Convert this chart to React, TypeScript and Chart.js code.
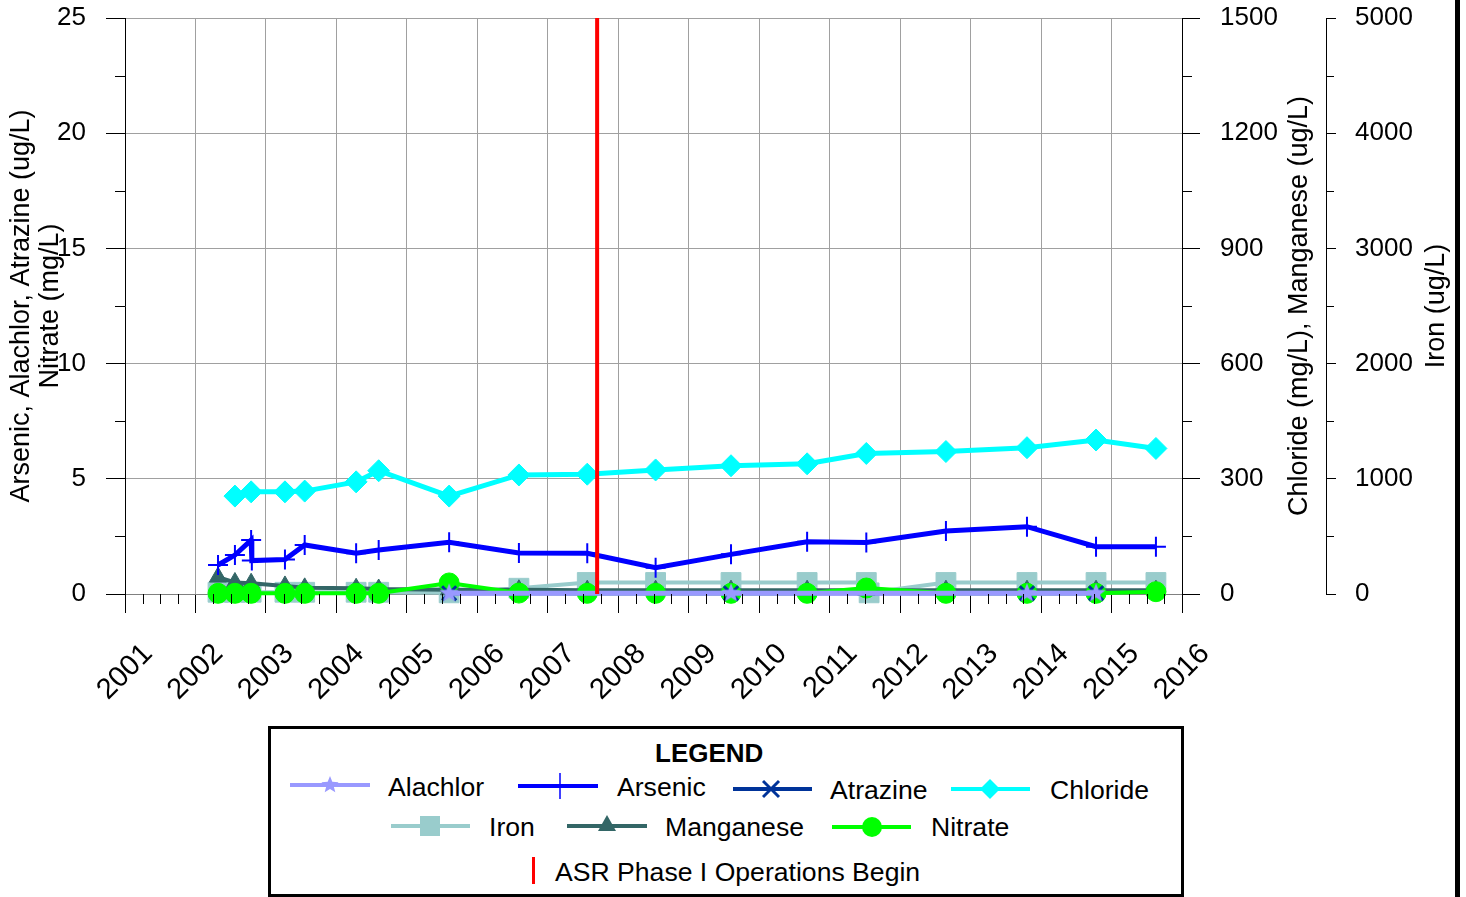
import React, { useEffect, useRef } from 'react';
import { Chart, registerables } from 'chart.js';

Chart.register(...registerables);

const FONT = "'Liberation Sans', Arial, Helvetica, sans-serif";

// ---------------- data ----------------
const sampleDates = [
  2002.32, 2002.56, 2002.79, 2003.27, 2003.55, 2004.28, 2004.6, 2005.6, 2006.59,
  2007.56, 2008.53, 2009.6, 2010.68, 2011.52, 2012.65, 2013.8, 2014.78, 2015.63,
];

const arsenicDates = [
  2002.32, 2002.56, 2002.79, 2002.8, 2003.27, 2003.55, 2004.28, 2004.6, 2005.6, 2006.59,
  2007.56, 2008.53, 2009.6, 2010.68, 2011.52, 2012.65, 2013.8, 2014.78, 2015.63,
];
const arsenic = [1.26, 1.69, 2.34, 1.45, 1.5, 2.13, 1.77, 1.91, 2.25, 1.78, 1.77, 1.14, 1.72, 2.27, 2.24, 2.73, 2.92, 2.05, 2.05];

const chloride = [null, 255, 266, 266, 268, 292, 321, 255, 310, 312, 323, 334, 339, 366, 371, 381, 401, 379];
const manganese = [44, 30, 28, 21, 16, 15, 13, 11, 11, 10, 10, 10, 10, 10, 10, 10, 10, 10];
const nitrate = [0.03, 0.03, 0.03, 0.03, 0.03, 0.03, 0.03, 0.48, 0.04, 0.03, 0.03, 0.03, 0.03, 0.26, 0.03, 0.03, 0.03, 0.1];

const ironDates = [
  2002.32, 2002.56, 2002.79, 2003.27, 2003.55, 2004.28, 2004.6, 2005.6, 2006.59,
  2007.56, 2008.53, 2009.6, 2010.68, 2011.52, 2011.56, 2012.65, 2013.8, 2014.78, 2015.63,
];
const iron = [15, 15, 15, 15, 15, 15, 15, 10, 50, 100, 100, 100, 100, 100, 10, 100, 100, 100, 100];

const organicsDates = [2005.6, 2009.6, 2013.8, 2014.78];
const alachlor = [0.03, 0.03, 0.03, 0.03];
const atrazine = [0.03, 0.03, 0.03, 0.03];

const asrStartDate = 2007.7;

const yearTicks = { min: 2001, max: 2016 };
const leftAxis = { min: 0, max: 25, step: 5 };
const chlorideAxis = { min: 0, max: 1500, step: 300 };
const ironAxis = { min: 0, max: 5000, step: 1000 };

const COLORS = {
  alachlor: '#9999FF',
  arsenic: '#0000FF',
  atrazine: '#003399',
  chloride: '#00FFFF',
  iron: '#99CCCC',
  manganese: '#336666',
  nitrate: '#00FF00',
  asr: '#FF0000',
};

const pts = (xs: number[], ys: (number | null)[]) =>
  xs.map((x, i) => ({ x, y: ys[i] })).filter((p) => p.y !== null && p.y !== undefined);

function makeStar(color: string, outer: number, inner: number) {
  const c = document.createElement('canvas');
  const s = Math.ceil(outer * 2 + 2);
  c.width = s;
  c.height = s;
  const ctx = c.getContext('2d')!;
  ctx.fillStyle = color;
  ctx.beginPath();
  for (let k = 0; k < 10; k++) {
    const r = k % 2 === 0 ? outer : inner;
    const a = -Math.PI / 2 + (k * Math.PI) / 5;
    const px = s / 2 + r * Math.cos(a);
    const py = s / 2 + r * Math.sin(a);
    if (k === 0) ctx.moveTo(px, py);
    else ctx.lineTo(px, py);
  }
  ctx.closePath();
  ctx.fill();
  return c;
}

const extrasPlugin = {
  id: 'extras',
  afterDraw(chart: any) {
    const ctx = chart.ctx as CanvasRenderingContext2D;
    const { x, y, y1, y2 } = chart.scales;
    const area = chart.chartArea;
    ctx.save();
    ctx.strokeStyle = '#000';
    ctx.lineWidth = 1;
    ctx.beginPath();
    for (let yr = yearTicks.min; yr < yearTicks.max; yr++) {
      for (let q = 1; q < 4; q++) {
        const px = Math.round(x.getPixelForValue(yr + q / 4)) + 0.5;
        ctx.moveTo(px, area.bottom);
        ctx.lineTo(px, area.bottom + 10);
      }
    }
    for (let v = leftAxis.min + leftAxis.step / 2; v < leftAxis.max; v += leftAxis.step) {
      const py = Math.round(y.getPixelForValue(v)) + 0.5;
      ctx.moveTo(area.left - 10, py);
      ctx.lineTo(area.left, py);
    }
    for (let v = chlorideAxis.min + chlorideAxis.step / 2; v < chlorideAxis.max; v += chlorideAxis.step) {
      const py = Math.round(y1.getPixelForValue(v)) + 0.5;
      ctx.moveTo(y1.left, py);
      ctx.lineTo(y1.left + 10, py);
    }
    for (let v = ironAxis.min + ironAxis.step / 2; v < ironAxis.max; v += ironAxis.step) {
      const py = Math.round(y2.getPixelForValue(v)) + 0.5;
      ctx.moveTo(y2.left, py);
      ctx.lineTo(y2.left + 8, py);
    }
    ctx.stroke();

    ctx.fillStyle = '#000';
    ctx.font = `27px ${FONT}`;
    ctx.textAlign = 'center';
    ctx.textBaseline = 'middle';
    const cy = (area.top + area.bottom) / 2;
    const rot = (text: string, cx: number, yy: number) => {
      ctx.save();
      ctx.translate(cx, yy);
      ctx.rotate(-Math.PI / 2);
      ctx.fillText(text, 0, 0);
      ctx.restore();
    };
    rot('Arsenic, Alachlor, Atrazine (ug/L)', 22, cy);
    rot('Nitrate (mg/L)', 51, cy);
    rot('Chloride (mg/L), Manganese (ug/L)', 1300, cy);
    rot('Iron (ug/L)', 1437, cy);
    ctx.restore();
  },
};

function LegendSample({ x1, x2, y, color, children }: any) {
  return (
    <g>
      <line x1={x1} x2={x2} y1={y} y2={y} stroke={color} strokeWidth={4} />
      {children}
    </g>
  );
}

function starPoints(cx: number, cy: number, outer: number, inner: number) {
  const p: string[] = [];
  for (let k = 0; k < 10; k++) {
    const r = k % 2 === 0 ? outer : inner;
    const a = -Math.PI / 2 + (k * Math.PI) / 5;
    p.push(`${(cx + r * Math.cos(a)).toFixed(1)},${(cy + r * Math.sin(a)).toFixed(1)}`);
  }
  return p.join(' ');
}

const legendText = (text: string, left: number, cy: number, bold = false) => (
  <span
    style={{
      position: 'absolute',
      left,
      top: cy - 15,
      font: `${bold ? 'bold ' : ''}${bold ? 26 : 26.6}px ${FONT}`,
      lineHeight: '30px',
      whiteSpace: 'nowrap',
      color: '#000',
    }}
  >
    {text}
  </span>
);

const fitY = (w: number) => (s: any) => {
  s.width = w;
  s.paddingTop = 0;
  s.paddingBottom = 0;
};

export default function App() {
  const ref = useRef<HTMLCanvasElement>(null);

  useEffect(() => {
    const star = makeStar(COLORS.alachlor, 10, 4.3);
    const font = { family: FONT, size: 26 };
    const common = { tension: 0, clip: false as any, pointBorderWidth: 1 };
    const plain = (v: any) => String(v);
    const chart = new Chart(ref.current!, {
      type: 'line',
      data: {
        datasets: [
          {
            label: 'ASR Phase I Operations Begin',
            data: [
              { x: asrStartDate, y: leftAxis.min },
              { x: asrStartDate, y: leftAxis.max },
            ],
            borderColor: COLORS.asr,
            borderWidth: 4,
            pointRadius: 0,
            yAxisID: 'y',
            order: 0,
            ...common,
          },
          {
            label: 'Alachlor',
            data: pts(organicsDates, alachlor),
            borderColor: COLORS.alachlor,
            backgroundColor: COLORS.alachlor,
            borderWidth: 5,
            pointStyle: star as any,
            pointRadius: 10,
            yAxisID: 'y',
            order: 1,
            ...common,
          },
          {
            label: 'Arsenic',
            data: pts(arsenicDates, arsenic),
            borderColor: COLORS.arsenic,
            backgroundColor: COLORS.arsenic,
            borderWidth: 5,
            pointStyle: 'cross',
            pointRadius: 10,
            yAxisID: 'y',
            order: 3,
            ...common,
            pointBorderWidth: 2,
          },
          {
            label: 'Atrazine',
            data: pts(organicsDates, atrazine),
            borderColor: COLORS.atrazine,
            backgroundColor: COLORS.atrazine,
            borderWidth: 4,
            pointStyle: 'crossRot',
            pointRadius: 10,
            yAxisID: 'y',
            order: 2,
            ...common,
            pointBorderWidth: 3,
          },
          {
            label: 'Chloride',
            data: pts(sampleDates, chloride),
            borderColor: COLORS.chloride,
            backgroundColor: COLORS.chloride,
            borderWidth: 5,
            pointStyle: 'rectRot',
            pointRadius: 11,
            yAxisID: 'y1',
            order: 4,
            ...common,
          },
          {
            label: 'Iron',
            data: pts(ironDates, iron),
            borderColor: COLORS.iron,
            backgroundColor: COLORS.iron,
            borderWidth: 4,
            pointStyle: 'rect',
            pointRadius: 14,
            yAxisID: 'y2',
            order: 7,
            ...common,
          },
          {
            label: 'Manganese',
            data: pts(sampleDates, manganese),
            borderColor: COLORS.manganese,
            backgroundColor: COLORS.manganese,
            borderWidth: 4,
            pointStyle: 'triangle',
            pointRadius: 10,
            yAxisID: 'y1',
            order: 6,
            ...common,
          },
          {
            label: 'Nitrate',
            data: pts(sampleDates, nitrate),
            borderColor: COLORS.nitrate,
            backgroundColor: COLORS.nitrate,
            borderWidth: 4,
            pointStyle: 'circle',
            pointRadius: 10,
            yAxisID: 'y',
            order: 5,
            ...common,
          },
        ] as any,
      },
      options: {
        responsive: false,
        animation: false,
        events: [],
        layout: { padding: { top: 18, left: 0, right: 0, bottom: 0 } },
        plugins: { legend: { display: false }, tooltip: { enabled: false }, title: { display: false } },
        scales: {
          x: {
            type: 'linear',
            min: yearTicks.min,
            max: yearTicks.max,
            ticks: {
              stepSize: 1,
              autoSkip: false,
              maxRotation: 45,
              minRotation: 45,
              padding: 24,
              labelOffset: 23,
              font: { family: FONT, size: 29 },
              color: '#000',
              callback: plain,
            },
            grid: { color: '#a0a0a0', tickColor: '#000', tickLength: 19, lineWidth: 1 },
            border: { color: '#808080', width: 1 },
            afterFit: (s: any) => {
              s.height = 303;
            },
          },
          y: {
            type: 'linear',
            position: 'left',
            min: leftAxis.min,
            max: leftAxis.max,
            ticks: { stepSize: leftAxis.step, font, color: '#000', padding: 20, callback: plain },
            grid: { color: '#a0a0a0', tickColor: '#000', tickLength: 19, lineWidth: 1 },
            border: { color: '#000', width: 1 },
            afterFit: fitY(125),
          },
          y1: {
            type: 'linear',
            position: 'right',
            weight: 1,
            min: chlorideAxis.min,
            max: chlorideAxis.max,
            ticks: { stepSize: chlorideAxis.step, font, color: '#000', padding: 20, callback: plain },
            grid: { drawOnChartArea: false, color: '#000', tickColor: '#000', tickLength: 18 },
            border: { color: '#000', width: 1 },
            afterFit: fitY(144),
          },
          y2: {
            type: 'linear',
            position: 'right',
            weight: 2,
            min: ironAxis.min,
            max: ironAxis.max,
            ticks: { stepSize: ironAxis.step, font, color: '#000', padding: 19, callback: plain },
            grid: { drawOnChartArea: false, color: '#000', tickColor: '#000', tickLength: 10 },
            border: { color: '#000', width: 1 },
            afterFit: fitY(140),
          },
        } as any,
      },
      plugins: [extrasPlugin],
    } as any);
    return () => chart.destroy();
  }, []);

  return (
    <div
      style={{
        position: 'absolute',
        left: 0,
        top: 0,
        width: 1466,
        height: 897,
        background: '#fff',
        overflow: 'hidden',
      }}
    >
      <canvas
        ref={ref}
        width={1466}
        height={897}
        style={{ position: 'absolute', left: 0, top: 0, width: 1466, height: 897 }}
      />
      <div style={{ position: 'absolute', left: 1455, top: 0, width: 5, height: 897, background: '#000' }} />
      <div
        style={{
          position: 'absolute',
          left: 268,
          top: 726,
          width: 916,
          height: 171,
          boxSizing: 'border-box',
          border: '3px solid #000',
          background: '#fff',
        }}
      />
      <svg
        width={1466}
        height={897}
        style={{ position: 'absolute', left: 0, top: 0, pointerEvents: 'none' }}
      >
        <LegendSample x1={290} x2={370} y={785} color={COLORS.alachlor}>
          <polygon points={starPoints(330, 785, 9, 3.9)} fill={COLORS.alachlor} />
        </LegendSample>
        <LegendSample x1={518} x2={598} y={786} color={COLORS.arsenic}>
          <line x1={560} x2={560} y1={773} y2={799} stroke={COLORS.arsenic} strokeWidth={1.5} />
        </LegendSample>
        <LegendSample x1={733} x2={812} y={789} color={COLORS.atrazine}>
          <line x1={763} x2={779} y1={781} y2={797} stroke={COLORS.atrazine} strokeWidth={3} />
          <line x1={763} x2={779} y1={797} y2={781} stroke={COLORS.atrazine} strokeWidth={3} />
        </LegendSample>
        <LegendSample x1={951} x2={1030} y={789} color={COLORS.chloride}>
          <polygon points="990,779 1000,789 990,799 980,789" fill={COLORS.chloride} />
        </LegendSample>
        <LegendSample x1={391} x2={470} y={826} color={COLORS.iron}>
          <rect x={420} y={816} width={20} height={20} fill={COLORS.iron} />
        </LegendSample>
        <LegendSample x1={567} x2={647} y={826} color={COLORS.manganese}>
          <polygon points="607,815 616,831 598,831" fill={COLORS.manganese} />
        </LegendSample>
        <LegendSample x1={832} x2={911} y={827} color={COLORS.nitrate}>
          <circle cx={872} cy={827} r={10} fill={COLORS.nitrate} />
        </LegendSample>
        <line x1={533.5} x2={533.5} y1={857} y2={884} stroke={COLORS.asr} strokeWidth={3} />
      </svg>
      {legendText('LEGEND', 655, 753, true)}
      {legendText('Alachlor', 388, 787)}
      {legendText('Arsenic', 617, 787)}
      {legendText('Atrazine', 830, 790)}
      {legendText('Chloride', 1050, 790)}
      {legendText('Iron', 489, 827)}
      {legendText('Manganese', 665, 827)}
      {legendText('Nitrate', 931, 827)}
      {legendText('ASR Phase I Operations Begin', 555, 872)}
    </div>
  );
}
